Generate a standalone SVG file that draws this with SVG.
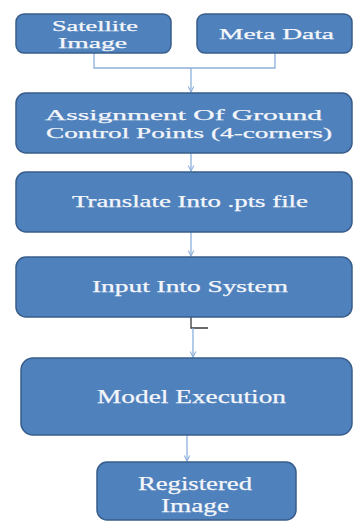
<svg xmlns="http://www.w3.org/2000/svg" width="354" height="521" viewBox="0 0 354 521">
  <style>
    .box { fill: #4F81BD; stroke: #385D8A; stroke-width: 1.5; }
    .lbl { fill: #F4F6FA; stroke: #F4F6FA; stroke-width: 0.25; font-family: "Liberation Serif", "Times New Roman", serif; }
    .conn { fill: none; stroke: #8DB0DC; stroke-width: 1.3; }
    .tick { fill: none; stroke: #3A3A3A; stroke-width: 1.3; }
  </style>
  <defs>
    <marker id="arr" viewBox="0 0 10 10" refX="9" refY="5" markerWidth="7" markerHeight="7" orient="auto" markerUnits="userSpaceOnUse">
      <path d="M1,1 L9,5 L1,9" fill="none" stroke="#8DB0DC" stroke-width="1.5"/>
    </marker>
  </defs>
  <rect width="354" height="521" fill="#FFFFFF"/>

  <g id="connectors">
    <path class="conn" d="M94,53 V68 H275 V53"/>
    <path class="conn" d="M191,68 V92" marker-end="url(#arr)"/>
    <path class="conn" d="M191,153 V171" marker-end="url(#arr)"/>
    <path class="conn" d="M191,232 V256" marker-end="url(#arr)"/>
    <path class="tick" d="M191,317 V328 H208"/>
    <path class="conn" d="M193,328 V357" marker-end="url(#arr)"/>
    <path class="conn" d="M187,435 V461" marker-end="url(#arr)"/>
  </g>

  <g id="satellite-image">
    <rect class="box" x="16" y="14" width="155" height="39" rx="8"/>
    <text class="lbl" x="52" y="31" font-size="14.5" textLength="86" lengthAdjust="spacingAndGlyphs">Satellite</text>
    <text class="lbl" x="58" y="47.5" font-size="14.5" textLength="69" lengthAdjust="spacingAndGlyphs">Image</text>
  </g>

  <g id="meta-data">
    <rect class="box" x="197" y="14" width="155" height="39" rx="8"/>
    <text class="lbl" x="219" y="39" font-size="15" textLength="115" lengthAdjust="spacingAndGlyphs">Meta Data</text>
  </g>

  <g id="assign-gcp">
    <rect class="box" x="16" y="93" width="336" height="60" rx="10"/>
    <text class="lbl" x="45" y="120" font-size="15" textLength="277" lengthAdjust="spacingAndGlyphs">Assignment Of Ground</text>
    <text class="lbl" x="46" y="137.5" font-size="15" textLength="286" lengthAdjust="spacingAndGlyphs">Control Points (4-corners)</text>
  </g>

  <g id="translate-pts">
    <rect class="box" x="16" y="172" width="336" height="60" rx="10"/>
    <text class="lbl" x="72" y="207" font-size="16" textLength="236" lengthAdjust="spacingAndGlyphs">Translate Into .pts file</text>
  </g>

  <g id="input-system">
    <rect class="box" x="16" y="257" width="336" height="60" rx="10"/>
    <text class="lbl" x="92" y="292" font-size="16" textLength="196" lengthAdjust="spacingAndGlyphs">Input Into System</text>
  </g>

  <g id="model-execution">
    <rect class="box" x="21" y="358" width="331" height="77" rx="12"/>
    <text class="lbl" x="97" y="403" font-size="19.5" textLength="189" lengthAdjust="spacingAndGlyphs">Model Execution</text>
  </g>

  <g id="registered-image">
    <rect class="box" x="97" y="462" width="199" height="58" rx="10"/>
    <text class="lbl" x="138" y="490" font-size="19" textLength="114" lengthAdjust="spacingAndGlyphs">Registered</text>
    <text class="lbl" x="161" y="511.5" font-size="19" textLength="68" lengthAdjust="spacingAndGlyphs">Image</text>
  </g>
</svg>
